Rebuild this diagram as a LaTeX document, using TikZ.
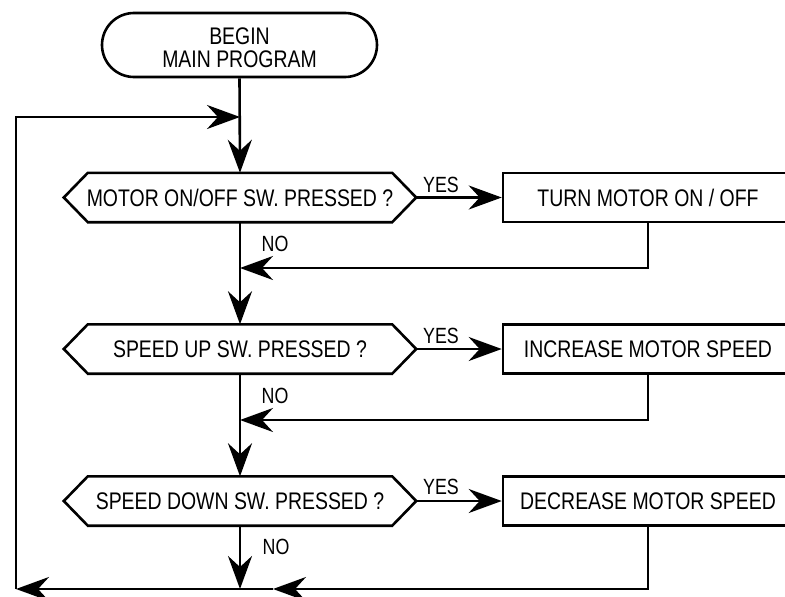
\documentclass[tikz,border=0pt]{standalone}
\usepackage{fontspec}
\setmainfont{Liberation Sans}[FakeStretch=0.81]
\usetikzlibrary{arrows.meta}
\tikzset{
  every node/.style={font=\fontsize{24}{24}\selectfont, inner sep=0pt},
  line/.style={line width=2.6pt},
  arr/.style={line width=2.6pt, -{Stealth[length=33pt,width=24pt,inset=11pt]}},
  termbox/.style={draw, line width=2.6pt, rounded corners=32pt, minimum width=275pt, minimum height=64pt, align=center},
  decbox/.style={minimum width=352pt, minimum height=49pt},
  actbox/.style={draw, line width=2.6pt, minimum width=290pt, minimum height=49pt},
  lbl/.style={font=\fontsize{22}{24}\selectfont}
}
\newcommand\drawdecision[1]{%
  \draw[line] (#1.west) -- ([xshift=24pt]#1.north west) -- ([xshift=-24pt]#1.north east) -- (#1.east)
    -- ([xshift=-24pt]#1.south east) -- ([xshift=24pt]#1.south west) -- cycle;}
\begin{document}
\begin{tikzpicture}[x=1pt,y=-1pt]
\useasboundingbox (0,0) rectangle (785,597);
\node[termbox] (t) at (239.5,45) {\rule{0pt}{22.5pt}BEGIN\\[-1.5pt]MAIN PROGRAM};

\node[decbox] (d1) at (240,197.5) {MOTOR ON/OFF SW. PRESSED ?};
\node[decbox] (d2) at (240,349) {SPEED UP SW. PRESSED ?};
\node[decbox] (d3) at (240,501) {SPEED DOWN SW. PRESSED ?};
\drawdecision{d1}
\drawdecision{d2}
\drawdecision{d3}

\node[actbox] (b1) at (648,197.5) {TURN MOTOR ON / OFF};
\node[actbox] (b2) at (648,349) {INCREASE MOTOR SPEED};
\node[actbox] (b3) at (648,501) {DECREASE MOTOR SPEED};

\coordinate (j0) at (240,117);
\coordinate (j1) at (240,268);
\coordinate (j2) at (240,420);
\coordinate (jb) at (240,589);
\coordinate (m3) at (273,589);
\coordinate (cbl) at (16,589);
\coordinate (ctl) at (16,117);

\draw[arr] (t.south) -- (d1.north);
\draw[arr] (d1.south) -- (d2.north);
\draw[arr] (d2.south) -- (d3.north);
\draw[arr] (d3.south) -- (jb);

\draw[arr] (d1.east) -- (b1.west);
\draw[arr] (d2.east) -- (b2.west);
\draw[arr] (d3.east) -- (b3.west);

\draw[arr] (b1.south) |- (j1);
\draw[arr] (b2.south) |- (j2);
\draw[arr] (b3.south) |- (m3);
\draw[arr] (m3) -- (cbl);
\draw[arr] (cbl) -- (ctl) -- (j0);

\node[lbl] (y1) at (441,184.5) {YES};
\node[lbl] (y2) at (441,336) {YES};
\node[lbl] (y3) at (441,487) {YES};
\node[lbl] (n1) at (275,244) {NO};
\node[lbl] (n2) at (275,396) {NO};
\node[lbl] (n3) at (276,546.5) {NO};
\end{tikzpicture}
\end{document}
